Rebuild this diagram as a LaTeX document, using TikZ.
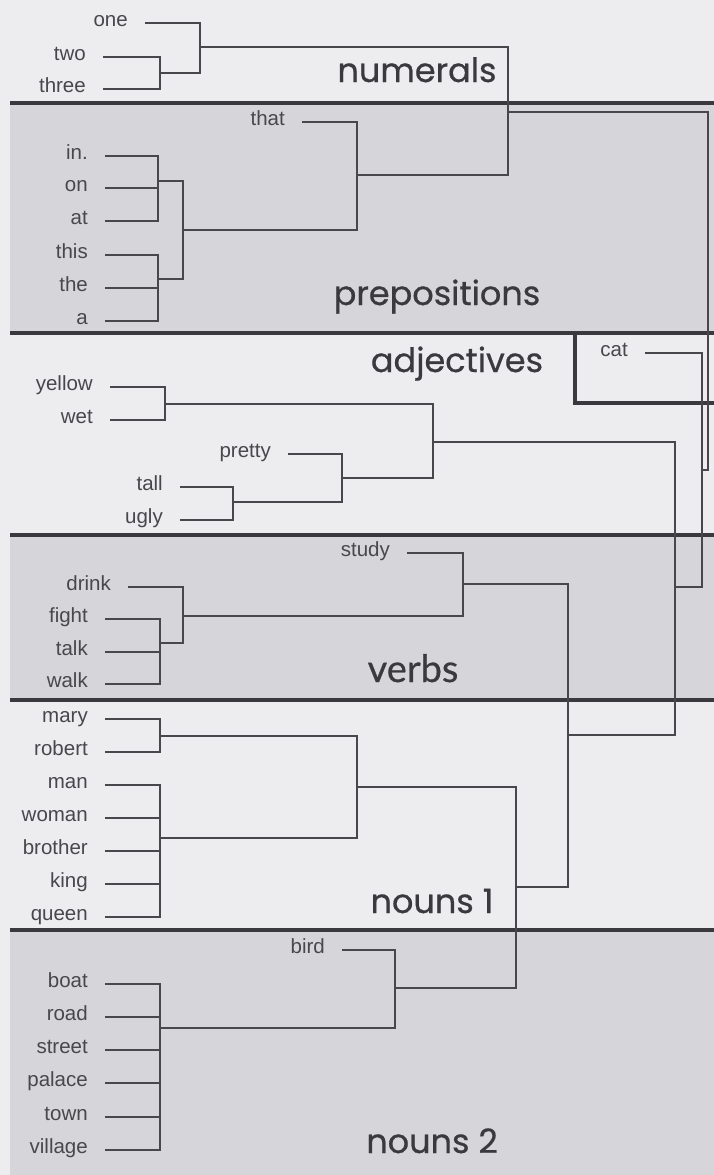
\documentclass[tikz,border=0pt]{standalone}
\usepackage{fontspec}
\setmainfont{Liberation Sans}
\newfontfamily\catfont[FakeBold=0.6]{Poppins}
\newfontfamily\verbfont[FakeBold=0.6]{Lato}
\definecolor{pagebg}{RGB}{237,237,240}
\definecolor{bandbg}{RGB}{214,214,218}
\definecolor{ink}{RGB}{72,72,76}
\definecolor{thickink}{RGB}{58,58,62}
\tikzset{
  leaf/.style={anchor=east, inner xsep=17pt, inner ysep=0pt, text height=6pt, text depth=0pt,
    font=\fontsize{20.5}{20.5}\selectfont, text=ink},
  branch/.style={draw=ink, line width=1.2pt},
  sep/.style={draw=thickink, line width=3.2pt},
  cat/.style={anchor=base, inner sep=0pt, font=\catfont\fontsize{33.5}{33.5}\selectfont, text=thickink},
}
\begin{document}
\begin{tikzpicture}[x=1pt, y=-1pt]
\useasboundingbox (0,0) rectangle (714,1175);
\fill[pagebg] (0,0) rectangle (714,1175);
% grey bands
\fill[bandbg] (10,103) rectangle (714,333);
\fill[bandbg] (10,535) rectangle (714,700);
\fill[bandbg] (10,930) rectangle (714,1175);
% thick separators
\draw[sep] (10,103) -- (714,103);
\draw[sep] (10,333) -- (714,333);
\draw[sep] (10,535) -- (714,535);
\draw[sep] (10,700) -- (714,700);
\draw[sep] (10,930) -- (714,930);
\draw[sep] (575,333) -- (575,403) -- (714,403);

% leaves
\node[leaf] (one) at (145,23) {one};
\node[leaf] (two) at (103,57) {two};
\node[leaf] (three) at (103,89) {three};
\node[leaf] (that) at (302,122) {that};
\node[leaf] (in) at (105,156) {in.};
\node[leaf] (on) at (105,188) {on};
\node[leaf] (at) at (105,221) {at};
\node[leaf] (this) at (105,255) {this};
\node[leaf] (the) at (105,288) {the};
\node[leaf] (a) at (105,321) {a};
\node[leaf] (cat) at (645,353) {cat};
\node[leaf] (yellow) at (110,387) {yellow};
\node[leaf] (wet) at (110,420) {wet};
\node[leaf] (pretty) at (288,454) {pretty};
\node[leaf] (tall) at (180,487) {tall};
\node[leaf] (ugly) at (180,520) {ugly};
\node[leaf] (study) at (407,553) {study};
\node[leaf] (drink) at (128,587) {drink};
\node[leaf] (fight) at (105,619) {fight};
\node[leaf] (talk) at (105,652) {talk};
\node[leaf] (walk) at (105,684) {walk};
\node[leaf] (mary) at (105,719) {mary};
\node[leaf] (robert) at (105,752) {robert};
\node[leaf] (man) at (105,785) {man};
\node[leaf] (woman) at (105,818) {woman};
\node[leaf] (brother) at (105,851) {brother};
\node[leaf] (king) at (105,884) {king};
\node[leaf] (queen) at (105,917) {queen};
\node[leaf] (bird) at (342,950) {bird};
\node[leaf] (boat) at (105,984) {boat};
\node[leaf] (road) at (105,1017) {road};
\node[leaf] (street) at (105,1050) {street};
\node[leaf] (palace) at (105,1083) {palace};
\node[leaf] (town) at (105,1117) {town};
\node[leaf] (village) at (105,1150) {village};

% junctions
\coordinate (jNum1) at (160,73);
\coordinate (jNum) at (200,47);
\coordinate (jPrep1) at (158,181);
\coordinate (jPrep2) at (158,279);
\coordinate (jPrep) at (183,230);
\coordinate (jThat) at (357,175);
\coordinate (jTop) at (508,112);
\coordinate (jAdj1) at (165,404);
\coordinate (jAdj2) at (233,502);
\coordinate (jAdj3) at (342,478);
\coordinate (jAdj) at (433,442);
\coordinate (jV1) at (160,643);
\coordinate (jV2) at (183,616);
\coordinate (jV) at (463,584);
\coordinate (jNa) at (160,736);
\coordinate (jNb) at (160,838);
\coordinate (jN1) at (357,787);
\coordinate (jNc) at (160,1028);
\coordinate (jN2) at (395,988);
\coordinate (jN) at (516,887);
\coordinate (jVN) at (568,735);
\coordinate (jAVN) at (675,587);
\coordinate (jCat) at (702,470);
\coordinate (jRoot) at (708,291);

% branches
\draw[branch] (two.east) -| (jNum1);
\draw[branch] (three.east) -| (jNum1);
\draw[branch] (one.east) -| (jNum);
\draw[branch] (jNum1) -| (jNum);
\foreach \w in {in,on,at} \draw[branch] (\w.east) -| (jPrep1);
\foreach \w in {this,the,a} \draw[branch] (\w.east) -| (jPrep2);
\draw[branch] (jPrep1) -| (jPrep);
\draw[branch] (jPrep2) -| (jPrep);
\draw[branch] (that.east) -| (jThat);
\draw[branch] (jPrep) -| (jThat);
\draw[branch] (jNum) -| (jTop);
\draw[branch] (jThat) -| (jTop);
\draw[branch] (yellow.east) -| (jAdj1);
\draw[branch] (wet.east) -| (jAdj1);
\draw[branch] (tall.east) -| (jAdj2);
\draw[branch] (ugly.east) -| (jAdj2);
\draw[branch] (pretty.east) -| (jAdj3);
\draw[branch] (jAdj2) -| (jAdj3);
\draw[branch] (jAdj1) -| (jAdj);
\draw[branch] (jAdj3) -| (jAdj);
\foreach \w in {fight,talk,walk} \draw[branch] (\w.east) -| (jV1);
\draw[branch] (drink.east) -| (jV2);
\draw[branch] (jV1) -| (jV2);
\draw[branch] (study.east) -| (jV);
\draw[branch] (jV2) -| (jV);
\draw[branch] (mary.east) -| (jNa);
\draw[branch] (robert.east) -| (jNa);
\foreach \w in {man,woman,brother,king,queen} \draw[branch] (\w.east) -| (jNb);
\draw[branch] (jNa) -| (jN1);
\draw[branch] (jNb) -| (jN1);
\foreach \w in {boat,road,street,palace,town,village} \draw[branch] (\w.east) -| (jNc);
\draw[branch] (bird.east) -| (jN2);
\draw[branch] (jNc) -| (jN2);
\draw[branch] (jN1) -| (jN);
\draw[branch] (jN2) -| (jN);
\draw[branch] (jV) -| (jVN);
\draw[branch] (jN) -| (jVN);
\draw[branch] (jAdj) -| (jAVN);
\draw[branch] (jVN) -| (jAVN);
\draw[branch] (cat.east) -| (jCat);
\draw[branch] (jAVN) -| (jCat);
\draw[branch] (jTop) -| (jRoot);
\draw[branch] (jCat) -| (jRoot);

% category labels
\node[cat] (lnum) at (417,82) {numerals};
\node[cat] (lprep) at (437,305) {prepositions};
\node[cat] (ladj) at (457,372) {adjectives};
\node[cat, font=\verbfont\fontsize{38}{38}\selectfont] (lverb) at (413,682) {verbs};
\node[cat] (ln1) at (432,913) {nouns 1};
\node[cat] (ln2) at (432,1153) {nouns 2};
\end{tikzpicture}
\end{document}
